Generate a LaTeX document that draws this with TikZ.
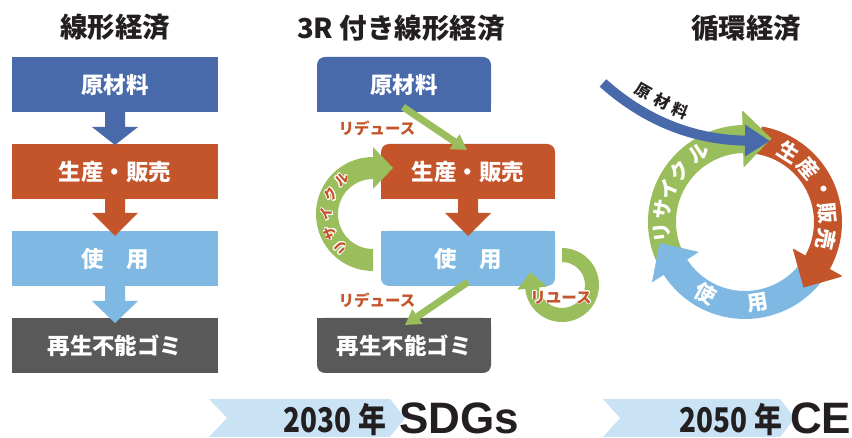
\documentclass[tikz,border=0pt]{standalone}
\usepackage{fontspec}
\setmainfont{Noto Sans CJK JP}
\newfontfamily\latf{Liberation Sans}
\usepackage{contour}
\contourlength{0.8pt}
\usetikzlibrary{calc,arrows.meta,backgrounds}
\definecolor{cblue}{HTML}{486AAA}
\definecolor{cred}{HTML}{C4542A}
\definecolor{clight}{HTML}{7FB9E3}
\definecolor{cgray}{HTML}{595959}
\definecolor{cgreen}{HTML}{9BBE5D}
\definecolor{cbanner}{HTML}{C9E2F4}
\definecolor{cdark}{HTML}{231F20}
\newcommand\blkarrow[4]{%
 \fill[#1] ($(#2.south)+(-10,1)$) -- ($(#2.south)+(-10,-#3)$) -- ($(#2.south)+(-23,-#3)$) -- ($(#2.south)+(0,-#4)$) -- ($(#2.south)+(23,-#3)$) -- ($(#2.south)+(10,-#3)$) -- ($(#2.south)+(10,1)$) -- cycle;}
\begin{document}
\begin{tikzpicture}[x=1pt,y=1pt,
 every node/.style={inner sep=0pt,outer sep=0pt},
 boxtxt/.style={text=white,font=\fontsize{22.5}{22.5}\selectfont\bfseries},
 lbox/.style={boxtxt,minimum width=206pt,minimum height=55pt},
 mbox/.style={boxtxt,minimum width=174pt,minimum height=55pt},
 ttl/.style={text=cdark,font=\fontsize{27.5}{27.5}\selectfont\bfseries},
 lab/.style={text=cred,font=\fontsize{15.5}{15.5}\selectfont\bfseries},
 arclab/.style={text=cred,font=\fontsize{13.5}{13.5}\selectfont\bfseries},
 ringtxt/.style={text=white,font=\fontsize{20}{20}\selectfont\bfseries},
 ringtxtb/.style={text=white,font=\fontsize{21}{21}\selectfont\bfseries},
 rawtxt/.style={text=cdark,font=\fontsize{16}{16}\selectfont\bfseries},
 garrow/.style={draw=cgreen,line width=7pt,-{Triangle[length=15pt,width=17pt]}},
 yeartxt/.style={text=cdark,font=\fontsize{34}{34}\selectfont\bfseries,text depth=0pt},
 bigtxt/.style={text=cdark,font=\fontsize{44}{44}\selectfont\latf\bfseries,text depth=0pt},
]
\useasboundingbox (0,0) rectangle (852,-438);

% titles
\node[ttl] (t1) at (115,-27) {線形経済};
\node[ttl] (t2) at (401,-28) {3R 付き線形経済};
\node[ttl] (t3) at (746,-28) {循環経済};

% ---------- left column ----------
\node[lbox,fill=cblue] (l1) at (115,-84.5) {原材料};
\node[lbox,fill=cred] (l2) at (115,-171.5) {生産・販売};
\node[lbox,fill=clight] (l3) at (115,-258.5) {使　用};
\node[lbox,fill=cgray] (l4) at (115,-345.5) {再生不能ゴミ};
\blkarrow{cblue}{l1}{15}{33}
\blkarrow{cred}{l2}{14}{37}
\blkarrow{clight}{l3}{15}{37}

% ---------- middle column ----------
\node[mbox] (m1) at (404,-84.5) {原材料};
\node[mbox] (m2) at (468,-171.5) {生産・販売};
\node[mbox] (m3) at (468,-258.5) {使　用};
\node[mbox] (m4) at (404,-345.5) {再生不能ゴミ};
\begin{scope}[on background layer]
 \fill[cblue,rounded corners=8pt] (m1.south west) rectangle (m1.north east);
 \fill[cblue] (m1.south west) rectangle (m1.east);
 \fill[cred,rounded corners=8pt] (m2.south west) rectangle (m2.north east);
 \fill[cred] (m2.south west) rectangle (m2.east);
 \fill[clight,rounded corners=8pt] (m3.south west) rectangle (m3.north east);
 \fill[clight] (m3.west) rectangle (m3.north east);
 \fill[cgray,rounded corners=8pt] (m4.south west) rectangle (m4.north east);
 \fill[cgray] (m4.west) rectangle (m4.north east);
\end{scope}
\blkarrow{cred}{m2}{14}{37}
\draw[garrow] ($(m1.south)+(-1,5)$) -- ($(m2.north)+(-1,-6)$);
\draw[garrow] ($(m3.south)+(0,4)$) -- ($(m4.north)+(1,-7)$);
\node[lab] (rd1) at (377,-128) {リデュース};
\node[lab] (rd2) at (377,-300) {リデュース};

% recycle arc (m3 -> m2)
\coordinate (rc) at (373,-214);
\begin{scope}[shift={(rc)}]
 \fill[cgreen] (-90:57) arc[start angle=-90,end angle=-270,radius=57] -- (90:67) -- (66.5:50.2) -- (90:25) -- (90:35) arc[start angle=90,end angle=270,radius=35] -- cycle;
 \node[arclab,rotate=136] (rcy1) at (226:46) {\contour{white}{リ}};
 \node[arclab,rotate=114] (rcy2) at (204:46) {\contour{white}{サ}};
 \node[arclab,rotate=90] (rcy3) at (180:46) {\contour{white}{イ}};
 \node[arclab,rotate=65] (rcy4) at (155:46) {\contour{white}{ク}};
 \node[arclab,rotate=42] (rcy5) at (132:46) {\contour{white}{ル}};
\end{scope}

% reuse arc (m3 -> m3)
\coordinate (uc) at (562,-285);
\begin{scope}[shift={(uc)}]
 \fill[cgreen] (90:23) -- (90:37) arc[start angle=90,end angle=-174,radius=37] -- (-174:45) -- (-202.07:34) -- (-174:15) -- (-174:23) arc[start angle=-174,end angle=90,radius=23] -- cycle;
\end{scope}
\node[lab] (ru) at (561,-298) {\contour{white}{リユース}};

% ---------- right column: ring ----------
\coordinate (ring) at (745,-222);
\begin{scope}[shift={(ring)}]
 \fill[cgreen] (208:69) -- (208:97) arc[start angle=208,end angle=91,radius=97] -- (91:111) -- (72.36:87.6) -- (91:55) -- (91:69) arc[start angle=91,end angle=208,radius=69] -- cycle;
 \fill[cred] (80:69) -- (80:97) arc[start angle=80,end angle=-29,radius=97] -- (-29:111) -- (-48.26:87.92) -- (-29:55) -- (-29:69) arc[start angle=-29,end angle=80,radius=69] -- cycle;
 \fill[clight] (-32:69) -- (-32:97) arc[start angle=-32,end angle=-147,radius=97] -- (-147:111) -- (-166.26:87.92) -- (-147:55) -- (-147:69) arc[start angle=-147,end angle=-32,radius=69] -- cycle;
 \fill[cred] (-29.5:55) -- (-29.5:111) -- (-48.26:87.92) -- cycle;
 \fill[cgreen] (91.5:55) -- (91.5:111) -- (72.36:87.6) -- cycle;
 % texts
 \node[ringtxt,rotate=97] (g1) at (187:83) {リ};
 \node[ringtxt,rotate=81] (g2) at (171:83) {サ};
 \node[ringtxt,rotate=67] (g3) at (157:83) {イ};
 \node[ringtxt,rotate=52] (g4) at (142:83) {ク};
 \node[ringtxt,rotate=34] (g5) at (124:83) {ル};
 \node[ringtxtb,rotate=-32] (p1) at (58:83) {生};
 \node[ringtxtb,rotate=-50] (p2) at (40:83) {産};
 \node[ringtxtb,rotate=-67] (p3) at (23:83) {・};
 \node[ringtxtb,rotate=-84] (p4) at (6:83) {販};
 \node[ringtxtb,rotate=-102] (p5) at (-12:83) {売};
 \node[ringtxtb,rotate=-29] (u1) at (-119:82) {使};
 \node[ringtxtb,rotate=9] (u2) at (-81:82) {用};
\end{scope}

% raw material arrow
\coordinate (rawstart) at (603,-83);
\draw[cblue,line width=10pt,-{Triangle[length=25pt,width=30pt]}] (rawstart) .. controls (650,-125) and (700,-140) .. (770,-141);
\node[rawtxt,rotate=-30] (rm1) at (643,-92) {原};
\node[rawtxt,rotate=-26] (rm2) at (662,-102) {材};
\node[rawtxt,rotate=-22] (rm3) at (680,-111) {料};

% ---------- banners ----------
\fill[cbanner] (209,-399) -- (390,-399) -- (405,-418) -- (390,-437) -- (209,-437) -- (227,-418) -- cycle;
\fill[cbanner] (603,-399) -- (780,-399) -- (795,-418) -- (780,-437) -- (603,-437) -- (620,-418) -- cycle;
\node[yeartxt,anchor=base east] (y1) at (386,-432) {\scalebox{0.82}[1]{2030 年}};
\node[bigtxt,anchor=base west] (s1) at (399,-433) {SDGs};
\node[yeartxt,anchor=base east] (y2) at (782,-432) {\scalebox{0.82}[1]{2050 年}};
\node[bigtxt,anchor=base west] (s2) at (790,-433) {CE};
\end{tikzpicture}
\end{document}
